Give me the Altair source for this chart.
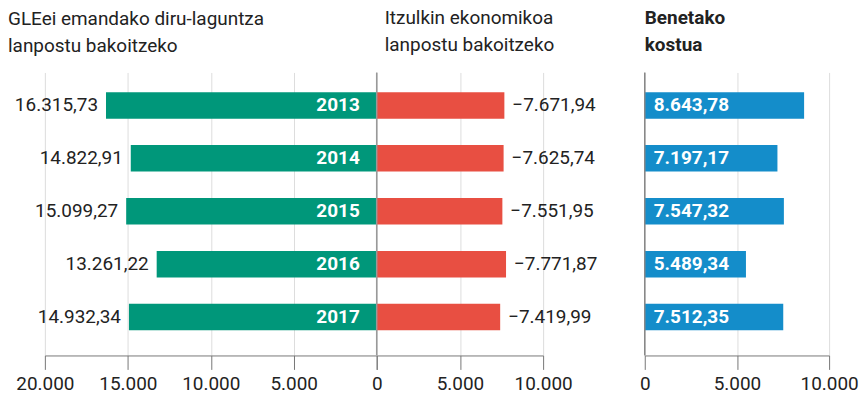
import altair as alt
import pandas as pd

years = ["2013", "2014", "2015", "2016", "2017"]
subsidy = [16315.73, 14822.91, 15099.27, 13261.22, 14932.34]
returns = [7671.94, 7625.74, 7551.95, 7771.87, 7419.99]
real_cost = [8643.78, 7197.17, 7547.32, 5489.34, 7512.35]

GREEN = "#00977A"
RED = "#E84F42"
BLUE = "#148DCA"
FONT = "Roboto"


def eu(v):
    s = f"{v:,.2f}"
    return s.replace(",", "X").replace(".", ",").replace("X", ".")


df = pd.DataFrame({
    "year": years,
    "neg_subsidy": [-v for v in subsidy],
    "returns": returns,
    "real_cost": real_cost,
    "subsidy_lbl": [eu(v) for v in subsidy],
    "returns_lbl": ["\u2212" + eu(v) for v in returns],
    "cost_lbl": [eu(v) for v in real_cost],
})

H = 284
yscale = alt.Scale(domain=years, paddingInner=0.5, paddingOuter=0.424, align=0.44)
Y = alt.Y("year:N", scale=yscale, axis=None, sort=years)
LBL = "replace(format(abs(datum.value), ','), ',', '.')"

base = alt.Chart(df)

# green panel
xg_scale = alt.Scale(domain=[-20000, 0], nice=False)
xg_axis = alt.Axis(values=[-20000, -15000, -10000, -5000, 0], title=None,
                   labelExpr="datum.value == 0 ? '' : " + LBL)
green = alt.layer(
    base.mark_bar(color=GREEN).encode(x=alt.X("neg_subsidy:Q", scale=xg_scale, axis=xg_axis), y=Y),
    base.mark_text(align="right", baseline="middle", dx=-8, fontSize=19, color="#222")
        .encode(x="neg_subsidy:Q", y=Y, text="subsidy_lbl:N"),
    base.mark_text(align="right", baseline="middle", dx=-17, fontSize=19, fontWeight="bold", color="white")
        .encode(x=alt.datum(0), y=Y, text="year:N"),
).properties(
    width=333, height=H,
    title=alt.TitleParams(["GLEei emandako diru-laguntza", "lanpostu bakoitzeko"],
                          anchor="start", frame="group", dx=-37),
)

# red panel
xr_scale = alt.Scale(domain=[0, 10000], nice=False)
xr_axis = alt.Axis(values=[0, 5000, 10000], title=None, labelExpr=LBL)
red = alt.layer(
    base.mark_bar(color=RED).encode(x=alt.X("returns:Q", scale=xr_scale, axis=xr_axis), y=Y),
    base.mark_text(align="left", baseline="middle", dx=8, fontSize=19, color="#222")
        .encode(x="returns:Q", y=Y, text="returns_lbl:N"),
    alt.Chart(pd.DataFrame({"z": [0]})).mark_rule(color="#999", strokeWidth=1.5).encode(x="z:Q"),
).properties(
    width=167, height=H,
    title=alt.TitleParams(["Itzulkin ekonomikoa", "lanpostu bakoitzeko"],
                          anchor="start", frame="group", dx=8),
)

# spacer between the two groups
spacer = alt.Chart(pd.DataFrame({"s": [0]})).mark_point(opacity=0).encode(
    x=alt.X("s:Q", axis=None), y=alt.Y("s:Q", axis=None)
).properties(width=102, height=H)

# blue panel
xb_scale = alt.Scale(domain=[0, 10000], nice=False)
xb_axis = alt.Axis(values=[0, 5000, 10000], title=None, labelExpr=LBL)
blue = alt.layer(
    base.mark_bar(color=BLUE).encode(x=alt.X("real_cost:Q", scale=xb_scale, axis=xb_axis), y=Y),
    base.mark_text(align="left", baseline="middle", dx=9, fontSize=19, fontWeight="bold", color="white")
        .encode(x=alt.datum(0), y=Y, text="cost_lbl:N"),
    alt.Chart(pd.DataFrame({"z": [0]})).mark_rule(color="#888", strokeWidth=1.5).encode(x="z:Q"),
).properties(
    width=185, height=H,
    title=alt.TitleParams(["Benetako", "kostua"], anchor="start", frame="group", fontWeight="bold"),
)

chart = alt.hconcat(green, red, spacer, blue, spacing=0, bounds="flush").resolve_scale(
    x="independent", y="shared"
).properties(
    padding={"left": 0, "top": 0, "right": 0, "bottom": 0}
).configure_view(stroke=None).configure_axis(
    domainColor="#777", tickColor="#777", tickSize=14, gridColor="#dddddd",
    labelFontSize=19, labelColor="#222", labelPadding=5, labelFlush=False,
    labelFont=FONT, domainWidth=1, tickWidth=1,
).configure_title(
    font=FONT, fontSize=19, fontWeight="normal", lineHeight=27, color="#222", offset=17,
).configure_text(font=FONT)

chart.save("out.html", embed_options={"renderer": "svg", "actions": False})
